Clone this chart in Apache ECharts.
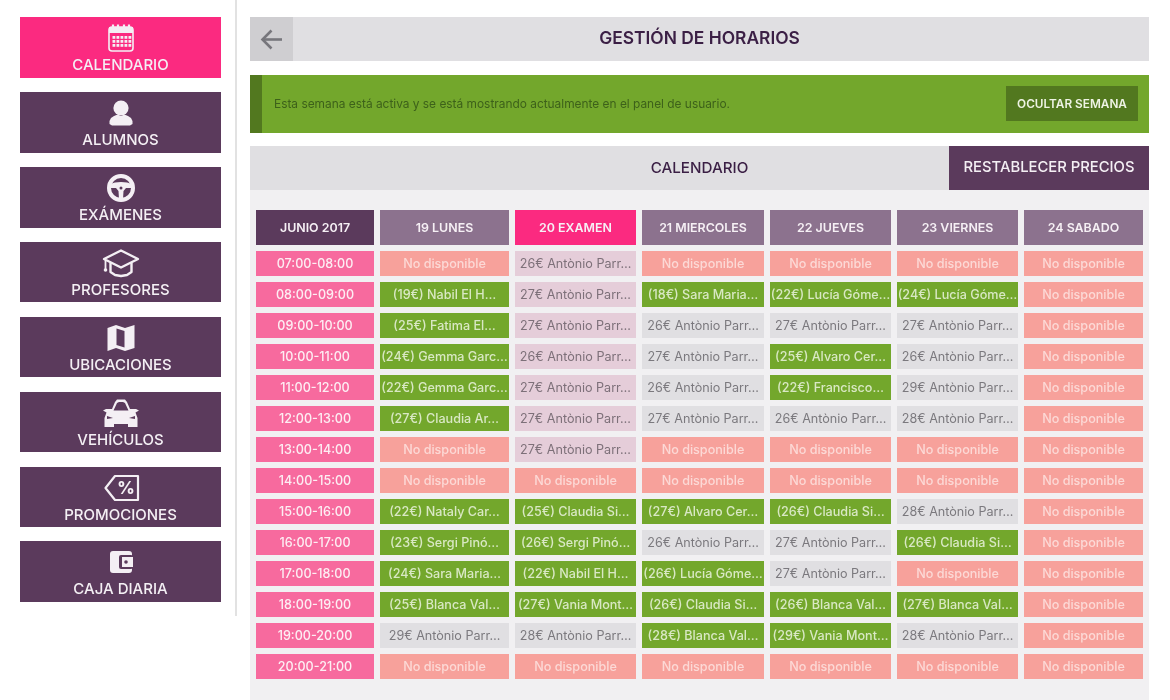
<!DOCTYPE html>
<html>
<head>
<meta charset="utf-8">
<title>Gestión de horarios</title>
<script src="https://cdn.jsdelivr.net/npm/echarts@6/dist/echarts.min.js"></script>
<style>
  html, body { margin: 0; padding: 0; background: #fff; }
  #chart { width: 1170px; height: 700px; }
</style>
</head>
<body>
<div id="chart"></div>
<script>
// Textos del calendario
const ND = 'No disponible';

const horas = ['07:00-08:00', '08:00-09:00', '09:00-10:00', '10:00-11:00', '11:00-12:00', '12:00-13:00', '13:00-14:00',
    '14:00-15:00', '15:00-16:00', '16:00-17:00', '17:00-18:00', '18:00-19:00', '19:00-20:00', '20:00-21:00'];

const cabeceras = ['JUNIO 2017', '19 LUNES', '20 EXAMEN', '21 MIERCOLES', '22 JUEVES', '23 VIERNES', '24 SABADO'];

const lunes = [ND, '(19€) Nabil El H…', '(25€) Fatima El…', '(24€) Gemma Garc…', '(22€) Gemma Garc…', '(27€) Claudia Ar…', ND,
    ND, '(22€) Nataly Car…', '(23€) Sergi Pinó…', '(24€) Sara Maria…', '(25€) Blanca Val…', '29€ Antònio Parr…', ND];

const examen = ['26€ Antònio Parr…', '27€ Antònio Parr…', '27€ Antònio Parr…', '26€ Antònio Parr…', '27€ Antònio Parr…', '27€ Antònio Parr…', '27€ Antònio Parr…',
    ND, '(25€) Claudia Si…', '(26€) Sergi Pinó…', '(22€) Nabil El H…', '(27€) Vania Mont…', '28€ Antònio Parr…', ND];

const miercoles = [ND, '(18€) Sara Maria…', '26€ Antònio Parr…', '27€ Antònio Parr…', '26€ Antònio Parr…', '27€ Antònio Parr…', ND,
    ND, '(27€) Alvaro Cer…', '26€ Antònio Parr…', '(26€) Lucía Góme…', '(26€) Claudia Si…', '(28€) Blanca Val…', ND];

const jueves = [ND, '(22€) Lucía Góme…', '27€ Antònio Parr…', '(25€) Alvaro Cer…', '(22€) Francisco…', '26€ Antònio Parr…', ND,
    ND, '(26€) Claudia Si…', '27€ Antònio Parr…', '27€ Antònio Parr…', '(26€) Blanca Val…', '(29€) Vania Mont…', ND];

const viernes = [ND, '(24€) Lucía Góme…', '27€ Antònio Parr…', '26€ Antònio Parr…', '29€ Antònio Parr…', '28€ Antònio Parr…', ND,
    ND, '28€ Antònio Parr…', '(26€) Claudia Si…', ND, '(27€) Blanca Val…', '28€ Antònio Parr…', ND];

const sabado = [ND, ND, ND, ND, ND, ND, ND, ND, ND, ND, ND, ND, ND, ND];

const menuTextos = ['CALENDARIO', 'ALUMNOS', 'EXÁMENES', 'PROFESORES', 'UBICACIONES', 'VEHÍCULOS', 'PROMOCIONES', 'CAJA DIARIA'];

// Filas de la columna de examen que salen marcadas en lila
const filasExamen = [0, 1, 2, 3, 4, 5, 6];

// Layout (pixeles)
const columnaInicio = [0, 124, 259, 386, 514, 641, 768];
const columnaAncho = [118, 129, 121, 122, 121, 121, 119];
const menuY = [17, 92, 167, 242, 317, 392, 467, 541];
const menuAlto = [61, 61, 61, 60, 60, 60, 60, 61];
const menuTextoY = [65, 140, 215, 290, 365, 440, 515, 589];

const FONT = 'Inter, "Noto Sans", sans-serif';
const MORADO = '#5b3a5c';
const BLANCO = '#f4eff4';

const dias = [lunes, examen, miercoles, jueves, viernes, sabado];

// Celdas de la tabla: [columna, fila]
const celdas = [];
horas.forEach((hora, fila) => {
    celdas.push({ value: [0, fila], text: hora, fill: '#f76a9e', color: '#fdeef3', weight: 500 });
    dias.forEach((dia, d) => {
        const text = dia[fila];
        let fill = '#e0dfe2', color = '#7b797e', weight = 400;
        if (text === ND) {
            fill = '#f7a19b'; color = '#fcd9d6'; weight = 500;
        } else if (text[0] === '(') {
            fill = '#73a72c'; color = '#d9e8c4'; weight = 500;
        } else if (d === 1 && filasExamen.includes(fila)) {
            fill = '#e5cdd9'; color = '#7d7079';
        }
        celdas.push({ value: [d + 1, fila], text: text, fill: fill, color: color, weight: weight });
    });
});

const celdasCabecera = cabeceras.map((text, c) => ({
    value: [c, 0],
    text: text,
    fill: c === 0 ? MORADO : (c === 2 ? '#fb2a80' : '#8c728e'),
    color: '#f6f0f5',
    weight: 600
}));

// Dibuja una celda a partir de los ejes
function renderCelda(lista, alto, tamano) {
    return function (params, api) {
        const celda = lista[params.dataIndex];
        const c = api.value(0);
        const centro = api.coord([columnaInicio[c], api.value(1)]);
        const ancho = api.size([columnaAncho[c], 0])[0];
        return {
            type: 'group',
            children: [
                { type: 'rect', shape: { x: centro[0], y: centro[1] - alto / 2, width: ancho, height: alto }, style: { fill: celda.fill } },
                {
                    type: 'text',
                    style: {
                        text: celda.text, x: centro[0] + ancho / 2, y: centro[1] + 1, align: 'center', verticalAlign: 'middle',
                        fill: celda.color, font: celda.weight + ' ' + tamano + 'px ' + FONT
                    }
                }
            ]
        };
    };
}

// Helpers para los elementos fijos
function caja(x, y, w, h, fill) {
    return { type: 'rect', shape: { x: x, y: y, width: w, height: h }, style: { fill: fill } };
}

function texto(text, x, y, size, weight, fill, align) {
    return {
        type: 'text',
        style: { text: text, x: x, y: y, align: align || 'center', verticalAlign: 'middle', fill: fill, font: weight + ' ' + size + 'px ' + FONT }
    };
}

function circulo(cx, cy, r, fill) {
    return { type: 'circle', shape: { cx: cx, cy: cy, r: r }, style: { fill: fill } };
}

function iconoCalendario() {
    const c = '#fb2a80';
    const partes = [
        { type: 'rect', shape: { x: 109, y: 27, width: 24, height: 24, r: 3 }, style: { fill: c, stroke: BLANCO, lineWidth: 1.6 } },
        caja(109, 27, 24, 6, BLANCO),
        { type: 'line', shape: { x1: 113, y1: 24.5, x2: 113, y2: 29 }, style: { stroke: BLANCO, lineWidth: 2.2 } },
        { type: 'line', shape: { x1: 118, y1: 24.5, x2: 118, y2: 29 }, style: { stroke: BLANCO, lineWidth: 2.2 } },
        { type: 'line', shape: { x1: 124, y1: 24.5, x2: 124, y2: 29 }, style: { stroke: BLANCO, lineWidth: 2.2 } },
        { type: 'line', shape: { x1: 129, y1: 24.5, x2: 129, y2: 29 }, style: { stroke: BLANCO, lineWidth: 2.2 } }
    ];
    [36, 40, 44].forEach(y => [112.5, 116.5, 120.5, 124.5, 128.5].forEach(x => partes.push(caja(x, y, 2.8, 2.8, BLANCO))));
    return partes;
}

function iconoAlumno() {
    return [
        circulo(121, 108, 7.6, BLANCO),
        { type: 'polygon', shape: { points: [[109.5, 121], [111, 118], [114, 116], [117.5, 114.5], [121, 116], [124.5, 114.5], [128, 116], [131, 118], [132.5, 121], [132.5, 124], [130, 125.5], [112, 125.5], [109.5, 124]] }, style: { fill: BLANCO } }
    ];
}

function iconoVolante() {
    return [
        { type: 'circle', shape: { cx: 121, cy: 188, r: 12 }, style: { fill: 'none', stroke: BLANCO, lineWidth: 4 } },
        { type: 'polygon', shape: { points: [[110, 184], [115, 182.5], [121, 182], [127, 182.5], [132, 184], [132, 188], [126, 188], [123.5, 191], [123, 199], [119, 199], [118.5, 191], [116, 188], [110, 188]] }, style: { fill: BLANCO } },
        circulo(121, 188, 1.5, MORADO)
    ];
}

function iconoGorro() {
    return [
        { type: 'polyline', shape: { points: [[110.5, 263], [110.5, 272], [115, 275], [121, 276], [127, 275], [131.5, 272], [131.5, 263]] }, style: { fill: 'none', stroke: BLANCO, lineWidth: 2.4, lineJoin: 'round' } },
        { type: 'polygon', shape: { points: [[121, 250.5], [138, 259], [121, 267.5], [104, 259]] }, style: { fill: MORADO, stroke: BLANCO, lineWidth: 2.4, lineJoin: 'round' } },
        { type: 'line', shape: { x1: 105.5, y1: 260, x2: 105.5, y2: 269 }, style: { stroke: BLANCO, lineWidth: 1.8 } },
        circulo(105.5, 270, 1.8, BLANCO)
    ];
}

function iconoMapa() {
    return [
        { type: 'polygon', shape: { points: [[107.5, 328], [116, 325], [125, 328], [134.5, 325], [134.5, 348], [125, 351], [116, 348], [107.5, 351]] }, style: { fill: BLANCO } },
        { type: 'polygon', shape: { points: [[116.5, 328.5], [124.5, 331], [124.5, 347.5], [116.5, 345]] }, style: { fill: MORADO } }
    ];
}

function iconoCoche() {
    return [
        { type: 'polygon', shape: { points: [[112, 409], [115, 402], [117, 399.5], [125, 399.5], [127, 402], [130, 409], [136, 409], [139, 410.5], [135.5, 412.5], [137.5, 418], [137.5, 427], [128, 427], [128, 424], [114, 424], [114, 427], [104.5, 427], [104.5, 418], [106.5, 412.5], [103, 410.5], [106, 409]] }, style: { fill: BLANCO, lineJoin: 'round' } },
        { type: 'polygon', shape: { points: [[113.5, 410.5], [117, 403], [119, 402], [123, 402], [125, 403], [128.5, 410.5]] }, style: { fill: MORADO } },
        { type: 'polygon', shape: { points: [[107, 416], [113, 418], [107, 419]] }, style: { fill: MORADO } },
        { type: 'polygon', shape: { points: [[135, 416], [129, 418], [135, 419]] }, style: { fill: MORADO } }
    ];
}

function iconoEtiqueta() {
    return [
        { type: 'polygon', shape: { points: [[105.5, 488], [115, 476], [138, 476], [138, 500], [115, 500]] }, style: { fill: MORADO, stroke: BLANCO, lineWidth: 2.2, lineJoin: 'round' } },
        texto('%', 126, 489, 17, 800, BLANCO)
    ];
}

function iconoCartera() {
    return [
        { type: 'rect', shape: { x: 110, y: 551, width: 22, height: 22, r: 3 }, style: { fill: BLANCO } },
        { type: 'rect', shape: { x: 119, y: 555, width: 14, height: 14, r: 2 }, style: { fill: MORADO } },
        caja(122, 557, 11, 10, BLANCO),
        circulo(126, 562, 1.8, MORADO)
    ];
}

// Todo lo que no es la tabla
function elementosFijos() {
    const el = [
        caja(235, 0, 2, 616, '#e2e2e2'),
        caja(250, 190, 899, 510, '#f1f0f2'),
        caja(250, 17, 899, 44, '#e0dfe2'),
        caja(250, 17, 43, 44, '#cfced1'),
        { type: 'polyline', shape: { points: [[271.5, 30.5], [262.5, 39.5], [271.5, 48.5]] }, style: { fill: 'none', stroke: '#77767c', lineWidth: 2.6 } },
        { type: 'line', shape: { x1: 263, y1: 39.5, x2: 282, y2: 39.5 }, style: { stroke: '#77767c', lineWidth: 2.6 } },
        texto('GESTIÓN DE HORARIOS', 699.5, 39, 17.4, 600, '#3b1f45'),
        caja(250, 75, 899, 58, '#73a72c'),
        caja(250, 75, 12, 58, '#52781f'),
        texto('Esta semana está activa y se está mostrando actualmente en el panel de usuario.', 274, 104, 11.9, 400, '#3d611a', 'left'),
        caja(1006, 86, 132, 35, '#52781f'),
        texto('OCULTAR SEMANA', 1072, 104, 11.8, 600, '#eef3e4'),
        caja(250, 146, 899, 44, '#e0dfe2'),
        caja(949, 146, 200, 44, MORADO),
        texto('CALENDARIO', 699.5, 168, 15.2, 500, '#3b1f45'),
        texto('RESTABLECER PRECIOS', 1049, 168, 14.8, 500, '#f4eff4')
    ];
    menuTextos.forEach((t, i) => {
        el.push(caja(20, menuY[i], 201, menuAlto[i], i === 0 ? '#fb2a80' : MORADO));
        el.push(texto(t, 120.5, menuTextoY[i], 15, 500, BLANCO));
    });
    [iconoCalendario, iconoAlumno, iconoVolante, iconoGorro, iconoMapa, iconoCoche, iconoEtiqueta, iconoCartera].forEach(f => {
        el.push({ type: 'group', children: f() });
    });
    return el;
}

const chart = echarts.init(document.getElementById('chart'), null, { renderer: 'canvas' });

chart.setOption({
    animation: false,
    backgroundColor: '#ffffff',
    graphic: { elements: elementosFijos() },
    grid: [
        { left: 256, top: 207, width: 887, height: 41 },
        { left: 256, top: 248, width: 887, height: 434 }
    ],
    xAxis: [
        { gridIndex: 0, type: 'value', min: 0, max: 887, show: false },
        { gridIndex: 1, type: 'value', min: 0, max: 887, show: false }
    ],
    yAxis: [
        { gridIndex: 0, type: 'category', data: ['cabecera'], show: false },
        { gridIndex: 1, type: 'category', data: horas, inverse: true, show: false }
    ],
    series: [
        {
            type: 'custom', xAxisIndex: 0, yAxisIndex: 0, z: 3, silent: true,
            encode: { x: 0, y: 1 },
            data: celdasCabecera,
            renderItem: renderCelda(celdasCabecera, 35, 12.4)
        },
        {
            type: 'custom', xAxisIndex: 1, yAxisIndex: 1, z: 3, silent: true,
            encode: { x: 0, y: 1 },
            data: celdas,
            renderItem: renderCelda(celdas, 25, 12.6)
        }
    ]
});
</script>
</body>
</html>
